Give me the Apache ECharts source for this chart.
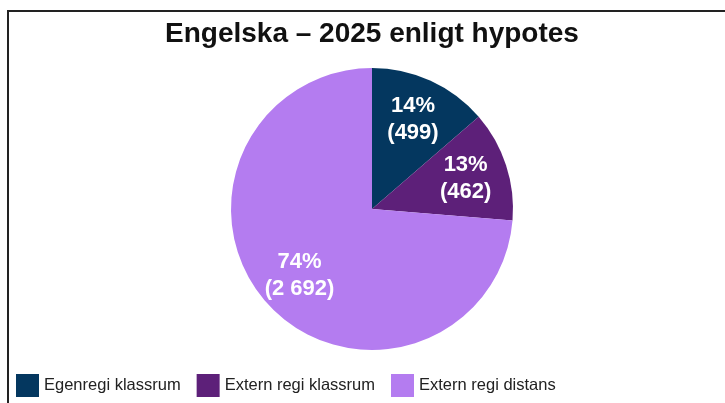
<!DOCTYPE html>
<html>
<head>
<meta charset="utf-8">
<script src="https://cdn.jsdelivr.net/npm/echarts@6/dist/echarts.min.js"></script>
<style>
  html, body { margin: 0; padding: 0; background: #fff; }
  #chart { width: 725px; height: 403px; }
</style>
</head>
<body>
<div id="chart"></div>
<script>
const titleText = "Engelska – 2025 enligt hypotes";
const categories = ["Egenregi klassrum", "Extern regi klassrum", "Extern regi distans"];
const values = [499, 462, 2692];
const colors = ["#04375F", "#5D2079", "#B47CF0"];

const total = values.reduce((a, b) => a + b, 0);
const pieData = categories.map((name, i) => ({ name: name, value: values[i] }));

// svensk tusentalsavgränsare med mellanslag
function fmtNum(v) {
  return String(v).replace(/\B(?=(\d{3})+(?!\d))/g, " ");
}

const chart = echarts.init(document.getElementById("chart"));
chart.setOption({
  animation: false,
  color: colors,
  title: {
    text: titleText,
    left: 160,
    top: 15,
    textStyle: {
      fontFamily: "Liberation Sans, Arial, sans-serif",
      fontSize: 28,
      fontWeight: "bold",
      color: "#111"
    }
  },
  legend: {
    data: categories,
    left: 11,
    top: 369,
    itemWidth: 23,
    itemHeight: 23,
    itemGap: 16,
    icon: "rect",
    textStyle: {
      fontFamily: "Liberation Sans, Arial, sans-serif",
      fontSize: 16.5,
      color: "#222"
    }
  },
  graphic: [
    {
      type: "rect",
      shape: { x: 8, y: 11, width: 900, height: 600 },
      style: { fill: "none", stroke: "#222", lineWidth: 2 },
      silent: true
    }
  ],
  series: [
    {
      type: "pie",
      center: [372, 209],
      radius: [0, 141],
      startAngle: 90,
      clockwise: true,
      label: { show: false },
      labelLine: { show: false },
      data: pieData
    },
    {
      // genomskinlig kopia bara för etiketterna längre ut i sektorn
      type: "pie",
      center: [372, 209],
      radius: [50, 141],
      startAngle: 90,
      clockwise: true,
      silent: true,
      itemStyle: { color: "transparent" },
      label: {
        show: true,
        position: "inside",
        fontFamily: "Liberation Sans, Arial, sans-serif",
        fontSize: 22,
        fontWeight: "bold",
        color: "#fff",
        lineHeight: 27,
        formatter: function (p) {
          return Math.round(p.value / total * 100) + "%\n(" + fmtNum(p.value) + ")";
        }
      },
      labelLine: { show: false },
      data: pieData
    }
  ]
});
</script>
</body>
</html>
